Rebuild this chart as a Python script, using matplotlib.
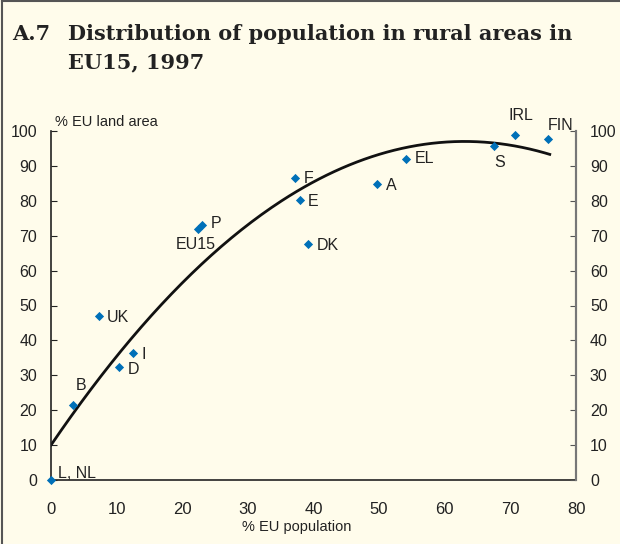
import numpy as np
import matplotlib.pyplot as plt
from matplotlib.lines import Line2D

# % EU population (x) vs % EU land area (y) in rural areas
countries = ["L, NL", "B", "UK", "D", "I", "EU15", "P", "F", "E", "DK",
             "A", "EL", "S", "IRL", "FIN"]
pop_share = [0.0, 3.4, 7.3, 10.4, 12.5, 22.4, 23.0, 37.2, 37.9, 39.2,
             49.7, 54.1, 67.5, 70.7, 75.7]
land_share = [0.0, 21.5, 47.0, 32.4, 36.4, 71.9, 73.1, 86.5, 80.2, 67.6,
              84.8, 92.0, 95.7, 98.9, 97.7]

# label offsets in points (dx, dy) and alignment
label_pos = {
    "L, NL": (5, 5, "left"), "B": (2, 14, "left"), "UK": (6, -1, "left"),
    "D": (6, -2, "left"), "I": (6, -1, "left"), "EU15": (-16, -11, "left"),
    "P": (6, 1, "left"), "F": (6, 0, "left"), "E": (6, -1, "left"),
    "DK": (6, -1, "left"), "A": (6, -1, "left"), "EL": (6, 0, "left"),
    "S": (4, -12, "center"), "IRL": (4, 14, "center"), "FIN": (0, 10, "left"),
}

# quadratic trend
trend = [-0.02192, 2.762, 10.0]
trend_x = [0, 76]

bg = "#FFFCEB"
blue = "#0070B8"
ink = "#222222"
plt.rcParams["font.family"] = ["Liberation Sans", "DejaVu Sans"]

fig = plt.figure(figsize=(6.2, 5.44), dpi=100, facecolor=bg)
# frame: top and left edges only
fig.lines.append(Line2D([0.004, 0.004], [0, 0.998], transform=fig.transFigure,
                        color="#555555", lw=1.5))
fig.lines.append(Line2D([0.004, 1], [0.998, 0.998], transform=fig.transFigure,
                        color="#555555", lw=1.5))

title_kw = dict(family="DejaVu Serif", fontweight="bold", fontsize=15,
                va="center", color=ink)
fig.text(0.02, 0.938, "A.7", **title_kw)
fig.text(0.11, 0.938, "Distribution of population in rural areas in", **title_kw)
fig.text(0.11, 0.886, "EU15, 1997", **title_kw)

ax = fig.add_axes([51 / 620, 1 - 480 / 544, 525 / 620, 349 / 544])
ax.set_facecolor(bg)
ax.set_xlim(0, 80)
ax.set_ylim(0, 100)

xs = np.linspace(trend_x[0], trend_x[1], 200)
ax.plot(xs, np.polyval(trend, xs), color="#111111", lw=2, zorder=2)
ax.scatter(pop_share, land_share, marker="D", s=22, color=blue, zorder=3,
           clip_on=False, linewidths=0)
for name, x, y in zip(countries, pop_share, land_share):
    dx, dy, ha = label_pos[name]
    ax.annotate(name, (x, y), xytext=(dx, dy), textcoords="offset points",
                ha=ha, va="center", fontsize=11.5, color=ink)

ax.spines["top"].set_visible(False)
ax.spines["right"].set_color("#777777")
ax.spines["right"].set_linewidth(1.5)
for s in ["left", "bottom"]:
    ax.spines[s].set_color(ink)
    ax.spines[s].set_linewidth(1.2)

ax.set_xticks(range(0, 81, 10))
ax.set_yticks(range(0, 101, 10))
ax.tick_params(axis="x", length=0, pad=16, labelsize=12, colors=ink)
ax.tick_params(axis="y", direction="in", length=4, pad=10, labelsize=11.5,
               colors=ink)

ax2 = ax.twinx()
ax2.set_ylim(0, 100)
ax2.set_yticks(range(0, 101, 10))
ax2.tick_params(axis="y", direction="in", length=4, pad=10, labelsize=11.5,
                colors=ink, color="#555555")
for s in ["top", "left", "bottom"]:
    ax2.spines[s].set_visible(False)
ax2.spines["right"].set_color("#777777")
ax2.spines["right"].set_linewidth(1.5)

fig.text(55 / 620, 1 - 122 / 544, "% EU land area", fontsize=10.5,
         va="center", color=ink)
fig.text(297 / 620, 1 - 527 / 544, "% EU population", fontsize=10.5,
         ha="center", va="center", color=ink)

fig.savefig("out.png", dpi=100, facecolor=bg)
